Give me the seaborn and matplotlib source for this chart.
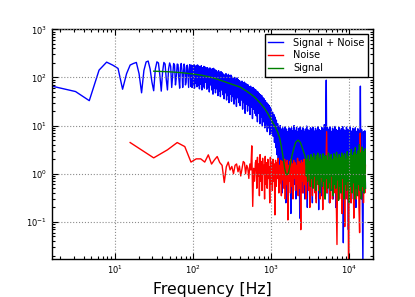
import numpy as np
import pandas as pd
import matplotlib
matplotlib.use("Agg")
import matplotlib.pyplot as plt
import seaborn as sns

# ---------------- data ----------------
DF_FINE = 1.5625      # bin width of the long spectrum (Hz)
DF_COARSE = 15.625    # bin width of the noise spectrum (Hz)

# Signal + Noise: first bins, one value per fine bin (k = 1..60)
BLUE_LOW = [66, 51, 33, 142, 208, 180, 154, 57, 120, 181, 195, 205, 120, 48, 140, 210, 219, 150, 80, 53,
            150, 211, 200, 110, 52, 130, 205, 190, 90, 55, 150, 200, 170, 62, 110, 195, 180, 70, 100, 190,
            185, 95, 60, 160, 195, 140, 62, 120, 190, 160, 70, 80, 175, 180, 100, 62, 150, 185, 120, 65]
# Signal + Noise, 95 Hz .. 990 Hz (log-spaced samples)
BLUE_MID = [180, 62, 175, 70, 185, 60, 170, 75, 178, 64, 182, 68, 172,
            58, 168, 72, 175, 55, 160, 66, 170, 60, 165, 80, 158, 57,
            160, 62, 150, 50, 158, 70, 148, 55, 152, 45, 155, 60, 145,
            48, 140, 58, 130, 42, 138, 52, 128, 40, 132, 55, 125, 44,
            118, 36, 112, 48, 120, 34, 110, 42, 116, 30, 108, 45, 112,
            32, 102, 40, 96, 28, 100, 36, 92, 25, 98, 38, 90, 30,
            86, 26, 80, 34, 84, 22, 78, 30, 80, 18, 75, 28, 72,
            20, 70, 26, 64, 17, 66, 24, 60, 14, 62, 22, 58, 18,
            56, 16, 52, 12, 50, 18, 46, 11, 44, 15, 42, 10, 38,
            12, 36, 9, 33, 11, 30, 7.5, 28, 9, 26, 6.5, 24, 7]
# Signal + Noise, 1 kHz .. 16 kHz (log-spaced samples)
BLUE_HIGH = [22, 7, 19, 6, 17, 4.5, 15, 3.5, 13, 2.5,
             11, 1.2, 9.5, 0.6, 10, 0.9, 8.5, 0.4, 9, 1.5,
             8, 0.5, 9.5, 0.25, 8.5, 1.0, 7.5, 0.35, 9, 0.7,
             8.5, 0.15, 9, 0.8, 7.8, 0.45, 10, 0.6, 8, 0.3,
             9.2, 1.1, 7.5, 0.5, 8.8, 0.12, 9.5, 0.7, 8, 0.4,
             9, 0.9, 7.6, 0.3, 8.5, 0.55, 9.8, 0.2, 8.2, 0.8,
             7.8, 0.4, 9, 0.65, 8.5, 0.25, 9.3, 1.0, 7.7, 0.45,
             8.8, 0.3, 8, 0.7, 9.5, 0.18, 8.3, 0.6, 7.9, 0.35,
             9.1, 0.8, 8.4, 0.5, 10.5, 0.3, 8.0, 88, 0.4, 9.0,
             0.6, 8.2, 0.25, 9.4, 0.9, 7.6, 0.45, 8.9, 0.3, 8.1,
             0.7, 9.6, 0.2, 8.3, 0.55, 7.8, 0.35, 9.2, 0.8, 8.0,
             0.4, 8.7, 0.15, 9.5, 0.037, 8.2, 0.6, 7.9, 0.3, 9.3,
             0.5, 8.4, 0.069, 8.0, 0.7, 9.7, 0.25, 7.7, 0.45, 8.8,
             0.3, 8.1, 0.6, 9.0, 0.2, 7.6, 0.5, 8.6, 0.35, 7.9,
             0.8, 66, 0.3, 8.3, 0.4, 0.012, 7.5, 0.6, 7.8, 0.5]

# Noise: coarse bins k = 1..40
RED_LOW = [4.45, 2.14, 3.14, 4.45, 3.67, 1.75, 2.04, 2.04, 1.75, 2.47,
           1.59, 1.95, 2.28, 1.71, 1.5, 0.66, 1.4, 1.75, 1.2, 1.42,
           1.0, 1.5, 1.6, 1.1, 1.45, 0.9, 1.3, 1.8, 1.7, 1.0,
           1.5, 1.3, 0.8, 1.6, 1.2, 3.8, 0.21, 1.3, 0.7, 1.7]
# Noise, 640 Hz .. 16 kHz (log-spaced samples)
RED_HIGH = [1.9, 0.5, 2.2, 0.9, 1.6, 0.35, 2.5, 0.7, 1.8, 0.45, 2.1, 1.0, 1.5, 0.3, 2.3, 0.6, 1.7, 0.5, 2.0, 0.8, 1.4, 0.25, 2.2, 0.6,
            1.8, 0.45, 2.0, 0.7, 1.6, 0.14, 1.9, 0.55, 1.7, 0.8, 2.1, 0.4, 1.5, 0.65, 1.9, 0.35, 1.8, 0.75, 1.6, 0.5, 2.0, 0.3, 1.7, 0.6,
            1.9, 0.11, 1.5, 0.7, 1.8, 0.4, 2.0, 0.55, 1.6, 0.3, 1.9, 0.8, 1.7, 0.45, 1.5, 0.6, 2.1, 0.35, 1.8, 0.5, 1.6, 0.069, 1.9, 0.7,
            1.7, 0.4, 2.0, 0.6, 1.5, 0.3, 1.8, 0.75, 1.9, 0.45, 1.6, 0.2, 2.0, 0.55, 1.7, 0.35, 1.8, 0.65, 1.5, 0.4, 1.9, 0.25, 1.7, 0.6,
            1.8, 0.45, 1.6, 0.3, 2.0, 0.7, 1.7, 0.18, 1.9, 0.5, 1.5, 0.35, 1.8, 7.5, 0.4, 1.7, 0.6, 1.9, 0.25, 1.6, 0.5, 1.8, 0.3, 1.7,
            0.55, 1.9, 0.4, 1.6, 0.2, 0.034, 1.8, 0.45, 1.5, 0.3, 1.9, 0.6, 1.7, 0.15, 1.8, 0.4, 1.6, 0.08, 1.9, 0.5, 1.7, 0.3, 1.6, 0.005,
            1.8, 0.45, 1.5, 0.25, 1.9, 0.6, 1.7, 0.12, 1.6, 0.4, 1.8, 0.3, 1.5, 0.5, 1.9, 0.2, 0.06, 7.0, 0.35, 1.7, 0.45, 1.6, 0.25, 1.8, 0.4, 1.5]

# Signal: smooth part (frequency, value)
GREEN_F = [31.25, 40, 50, 70, 100, 130, 160, 200, 250, 300, 400, 500, 600, 700, 800, 900, 1000,
           1100, 1200, 1280, 1350, 1410, 1480, 1550, 1650, 1750, 1850, 1950, 2050, 2200, 2350, 2500, 2700]
GREEN_V = [135, 133, 131, 126, 118, 111, 103, 93, 82, 74, 63, 50, 40, 31, 24, 18, 13,
           10, 7.5, 5.5, 3.5, 2.3, 1.3, 0.95, 1.0, 1.6, 2.5, 3.5, 4.5, 5.0, 4.5, 3.4, 2.3]
# Signal, 2.75 kHz .. 16 kHz (log-spaced samples)
GREEN_HIGH = [2.0, 0.9, 2.0, 0.7, 2.4, 1.0, 1.8, 0.55, 2.5, 0.8,
              2.2, 0.5, 2.6, 0.9, 1.9, 0.45, 2.4, 0.75, 2.7, 0.6,
              2.1, 0.4, 2.5, 0.85, 2.0, 0.55, 2.6, 0.7, 2.3, 0.3,
              2.4, 0.8, 1.9, 0.5, 2.7, 0.65, 2.2, 0.45, 2.5, 0.9,
              2.0, 0.35, 2.6, 0.6, 2.3, 0.5, 2.8, 0.75, 2.1, 0.28,
              2.5, 0.55, 2.2, 0.4, 2.7, 0.8, 2.4, 0.3, 2.6, 0.6,
              2.0, 0.45, 2.9, 0.7, 2.3, 0.25, 2.6, 0.55, 3.2, 0.4,
              2.4, 0.65, 2.8, 0.3, 3.5, 0.5, 2.5, 0.35, 3.0, 0.6,
              4.0, 0.45, 2.7, 0.3, 3.6, 0.55, 2.9, 0.4, 3.3, 0.5]

LABELS = ["Signal + Noise", "Noise", "Signal"]
COLORS = ["#0000ff", "#ff0000", "#008000"]

# ---------------- assemble series ----------------
blue = pd.DataFrame({
    "f": np.concatenate([DF_FINE * np.arange(1, len(BLUE_LOW) + 1),
                         np.geomspace(95, 990, len(BLUE_MID)),
                         np.geomspace(1000, 16000, len(BLUE_HIGH))]),
    "v": np.concatenate([BLUE_LOW, BLUE_MID, BLUE_HIGH]),
})
red = pd.DataFrame({
    "f": np.concatenate([DF_COARSE * np.arange(1, len(RED_LOW) + 1),
                         np.geomspace(640, 16000, len(RED_HIGH))]),
    "v": np.concatenate([RED_LOW, RED_HIGH]),
})
green = pd.DataFrame({
    "f": np.concatenate([GREEN_F, np.geomspace(2750, 16000, len(GREEN_HIGH))]),
    "v": np.concatenate([GREEN_V, GREEN_HIGH]),
})

# ---------------- draw ----------------
W, H = 415, 297
fig = plt.figure(figsize=(W / 100, H / 100), dpi=100)
ax = fig.add_axes([52 / W, 1 - 259 / H, 321 / W, (259 - 29.3) / H])

for df, lab, col in zip([blue, red, green], LABELS, COLORS):
    sns.lineplot(data=df, x="f", y="v", ax=ax, color=col, lw=1.0, label=lab,
                 sort=False, estimator=None)

ax.set_xscale("log")
ax.set_yscale("log")
ax.set_xlim(1.5625, 2e4)
ax.set_ylim(0.017, 1000)

ax.set_axisbelow(False)
ax.grid(True, which="major", linestyle=":", color="0.55", lw=0.8)
ax.tick_params(which="both", direction="in", top=True, right=True, labelsize=6, width=0.8, colors="k")
ax.tick_params(which="major", length=4)
ax.tick_params(which="minor", length=2)
for s in ax.spines.values():
    s.set_linewidth(1.0)
    s.set_color("k")

ax.set_xlabel("Frequency [Hz]", fontsize=11.3, labelpad=4)
ax.set_ylabel("")

leg = ax.legend(loc="upper right", fontsize=7, frameon=True, fancybox=False, framealpha=1,
                edgecolor="k", handlelength=1.5, handletextpad=1.1, borderpad=0.35,
                labelspacing=0.3, borderaxespad=0.5)
leg.get_frame().set_linewidth(1.0)

fig.savefig("out.png", dpi=100)
